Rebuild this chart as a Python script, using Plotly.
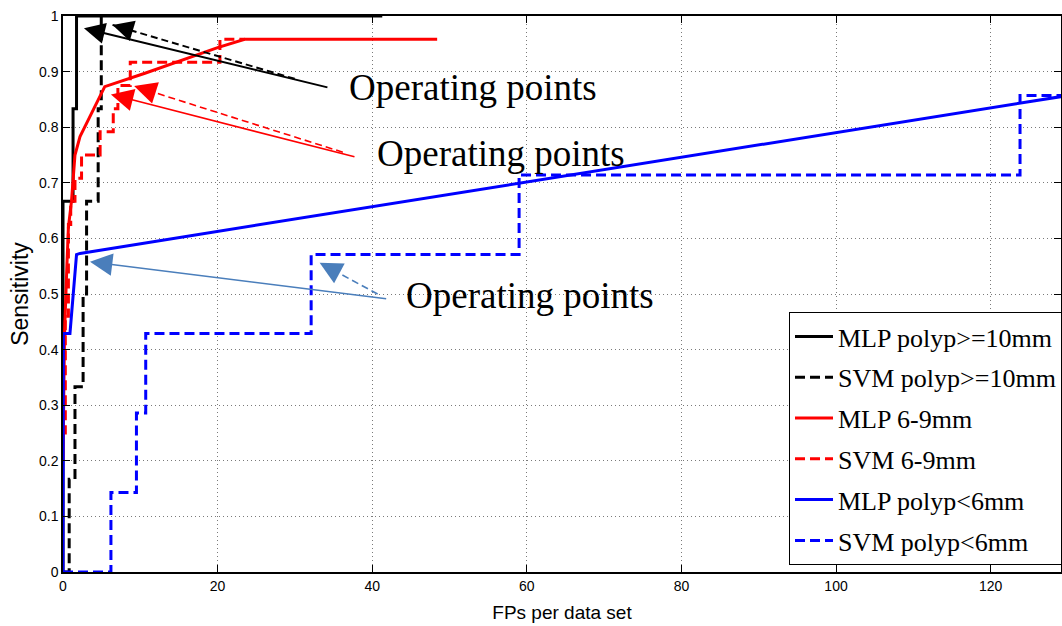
import math
import plotly.graph_objects as go

# Sensitivity vs. false positives per data set for two classifiers, three polyp sizes
mlp_10_x = [0, 0, 1.3, 1.75, 41.3]
mlp_10_y = [0, 0.667, 0.833, 1.0, 1.0]

svm_10_x = [0, 0.8, 1.55, 2.6, 3.05, 4.55, 4.95]
svm_10_y = [0, 0.167, 0.333, 0.5, 0.667, 0.833, 1.0]

mlp_69_x = [0, 0.2, 0.5, 0.7, 1.1, 1.3, 1.55, 2.2, 5.4, 10.6, 15.1, 20.0, 23.5, 48.4]
mlp_69_y = [0.2, 0.43, 0.55, 0.62, 0.667, 0.71, 0.75, 0.783, 0.873, 0.897, 0.919, 0.943, 0.958, 0.958]

svm_69_x = [0, 0.3, 0.7, 1.0, 1.55, 2.4, 4.8, 6.5, 7.1, 8.7, 20.3, 23.5]
svm_69_y = [0.25, 0.46, 0.625, 0.667, 0.708, 0.75, 0.792, 0.833, 0.875, 0.917, 0.958, 0.958]

mlp_6_x = [0, 0.05, 0.9, 1.75, 2.2, 130]
mlp_6_y = [0, 0.429, 0.429, 0.571, 0.573, 0.857]

svm_6_x = [0, 6.2, 9.5, 10.7, 32.1, 59.0, 123.8, 130]
svm_6_y = [0, 0.143, 0.286, 0.429, 0.571, 0.714, 0.857, 0.857]

x_ticks = [0, 20, 40, 60, 80, 100, 120]
y_ticks = [0, 0.1, 0.2, 0.3, 0.4, 0.5, 0.6, 0.7, 0.8, 0.9, 1.0]
y_tick_text = ["0", "0.1", "0.2", "0.3", "0.4", "0.5", "0.6", "0.7", "0.8", "0.9", "1"]

# "Operating points" call-outs: (tip x, tip y, tail x, tail y, colour, dashed)
pointers = [
    (2.71, 0.978, 34.4, 0.871, "#000000", False),
    (6.41, 0.984, 29.97, 0.887, "#000000", True),
    (6.2, 0.859, 37.9, 0.746, "#ff0000", False),
    (9.2, 0.874, 36.2, 0.755, "#ff0000", True),
    (3.49, 0.558, 42.0, 0.491, "#4a7ebb", False),
    (33.2, 0.556, 40.7, 0.500, "#4a7ebb", True),
]
callouts = [(36.8, 0.872), (40.3, 0.752), (44.1, 0.497)]

W, H = 1062, 626
M_L, M_R, M_T, M_B = 63, 0, 16, 54
X_RANGE = [0, 129.1]
Y_RANGE = [0, 1]
px_per_x = (W - M_L - M_R) / (X_RANGE[1] - X_RANGE[0])
px_per_y = (H - M_T - M_B) / (Y_RANGE[1] - Y_RANGE[0])

DASH = "10px,5px"
fig = go.Figure()

series = [
    ("MLP polyp>=10mm", mlp_10_x, mlp_10_y, "#000000", "solid", "hv"),
    ("SVM polyp>=10mm", svm_10_x, svm_10_y, "#000000", DASH, "hv"),
    ("MLP 6-9mm", mlp_69_x, mlp_69_y, "#ff0000", "solid", "linear"),
    ("SVM 6-9mm", svm_69_x, svm_69_y, "#ff0000", DASH, "hv"),
    ("MLP polyp<6mm", mlp_6_x, mlp_6_y, "#0000ff", "solid", "linear"),
    ("SVM polyp<6mm", svm_6_x, svm_6_y, "#0000ff", DASH, "hv"),
]
for i, (name, xs, ys, col, dash, shape) in enumerate(series):
    fig.add_trace(go.Scatter(
        x=xs, y=ys, mode="lines", name=name, legendgroup=f"g{i}",
        line=dict(color=col, width=3, dash=dash, shape=shape),
        cliponaxis=True,
    ))

for tx, ty, sx, sy, col, dashed in pointers:
    lw = 2 if col == "#000000" else 1.6
    head = 2.1 if lw == 2 else 2.8
    if not dashed:
        fig.add_annotation(
            x=tx, y=ty, ax=sx, ay=sy, xref="x", yref="y", axref="x", ayref="y",
            text="", showarrow=True, arrowhead=2, arrowsize=head,
            arrowwidth=lw, arrowcolor=col,
        )
    else:
        fig.add_shape(type="line", x0=sx, y0=sy, x1=tx, y1=ty, xref="x", yref="y",
                      line=dict(color=col, width=lw, dash="7px,4px"))
        dx = (sx - tx) * px_per_x
        dy = -(sy - ty) * px_per_y
        d = math.hypot(dx, dy)
        fig.add_annotation(
            x=tx, y=ty, ax=dx / d * 12, ay=dy / d * 12, xref="x", yref="y",
            text="", showarrow=True, arrowhead=2, arrowsize=head,
            arrowwidth=lw, arrowcolor=col,
        )

for cx, cy in callouts:
    fig.add_annotation(
        x=cx, y=cy, xref="x", yref="y", xanchor="left", yanchor="middle",
        text="Operating points", showarrow=False,
        font=dict(family="Liberation Serif", size=37, color="black"),
    )

axis_common = dict(
    showline=True, linecolor="black", linewidth=1.5, mirror="ticks",
    ticks="inside", ticklen=7, tickcolor="black", tickwidth=1,
    showgrid=True, gridcolor="#7a7a7a", gridwidth=1, griddash="1px,3px",
    zeroline=False,
    tickfont=dict(family="Liberation Sans", size=14, color="black"),
)

fig.update_layout(
    width=W, height=H,
    margin=dict(l=M_L, r=M_R, t=M_T, b=M_B),
    plot_bgcolor="white", paper_bgcolor="white",
    xaxis=dict(range=X_RANGE, tickvals=x_ticks, **axis_common,
               title=dict(text="FPs per data set", standoff=13,
                          font=dict(family="Liberation Sans", size=19, color="black"))),
    yaxis=dict(range=Y_RANGE, tickvals=y_ticks, ticktext=y_tick_text, **axis_common,
               title=dict(text="Sensitivity", standoff=4,
                          font=dict(family="Liberation Sans", size=23, color="black"))),
    legend=dict(
        x=(790 - M_L) / (W - M_L - M_R), y=(H - M_B - 312) / (H - M_T - M_B),
        xanchor="left", yanchor="top",
        bgcolor="white", bordercolor="black", borderwidth=1,
        font=dict(family="Liberation Serif", size=26, color="black"),
        itemwidth=38, tracegroupgap=4, traceorder="grouped",
    ),
    showlegend=True,
)

fig.write_html("out.html")
